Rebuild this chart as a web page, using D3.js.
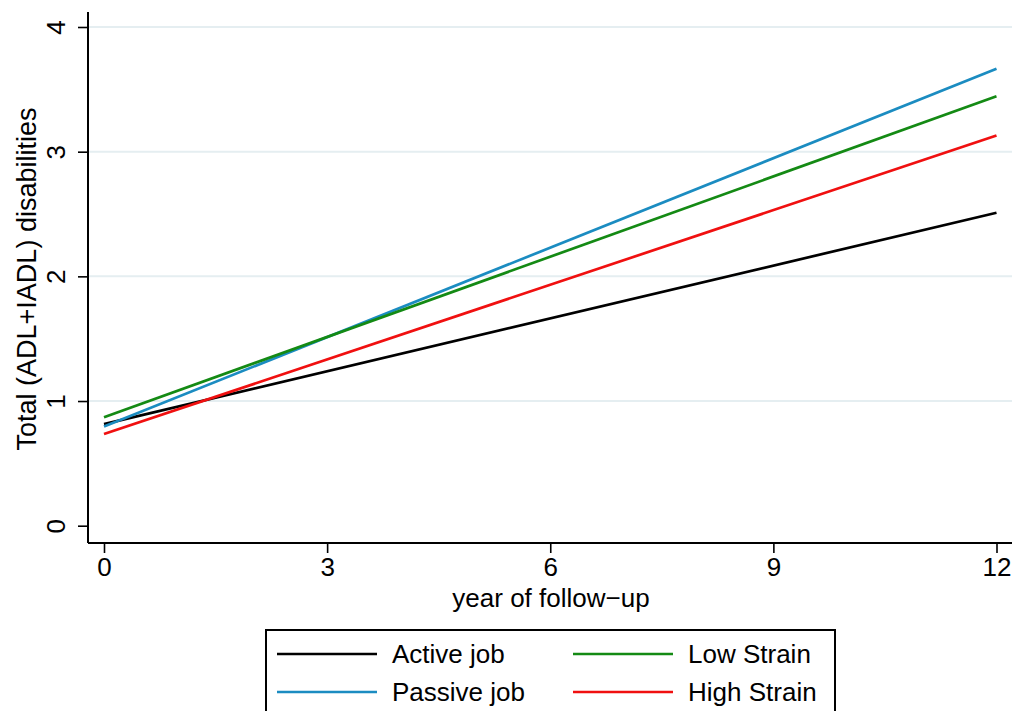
<!DOCTYPE html>
<html>
<head>
<meta charset="utf-8">
<script src="https://cdn.jsdelivr.net/npm/d3@7"></script>
<style>
  body { margin: 0; background: #fff; }
  svg { display: block; font-family: "Liberation Sans", Arial, sans-serif; }
</style>
</head>
<body>
<svg id="chart" width="1024" height="711"></svg>
<script>
// fitted lines, values at start and end of follow-up
const years = [0, 12];
const activeJob = [0.815, 2.51];
const passiveJob = [0.795, 3.665];
const lowStrain = [0.87, 3.445];
const highStrain = [0.735, 3.13];

const xTicks = [0, 3, 6, 9, 12];
const yTicks = [0, 1, 2, 3, 4];
const gridValues = [1, 2, 3, 4];

const series = [
  { name: 'Active job', values: activeJob, color: '#000000' },
  { name: 'Passive job', values: passiveJob, color: '#1b8cc1' },
  { name: 'Low Strain', values: lowStrain, color: '#148a14' },
  { name: 'High Strain', values: highStrain, color: '#f01010' }
];

const svg = d3.select('#chart');
const fontSize = 26;

const x = d3.scaleLinear().domain([0, 12]).range([104, 996.5]);
const y = d3.scaleLinear().domain([0, 4]).range([525.7, 27]);

// gridlines
svg.append('g')
  .selectAll('line')
  .data(gridValues)
  .enter().append('line')
  .attr('x1', 89).attr('x2', 1012)
  .attr('y1', d => y(d)).attr('y2', d => y(d))
  .attr('stroke', '#e5eef1')
  .attr('stroke-width', 2);

// lines
const line = d3.line()
  .x((d, i) => x(years[i]))
  .y(d => y(d));

svg.append('g')
  .selectAll('path')
  .data(series)
  .enter().append('path')
  .attr('d', d => line(d.values))
  .attr('fill', 'none')
  .attr('stroke', d => d.color)
  .attr('stroke-width', 2.7);

// axes
const xAxis = svg.append('g')
  .attr('transform', 'translate(0,543)')
  .call(d3.axisBottom(x).tickValues(xTicks).tickFormat(d3.format('d'))
    .tickSize(10).tickPadding(5).tickSizeOuter(0));
xAxis.select('.domain').attr('d', 'M88,0H1012').attr('stroke-width', 2);
xAxis.selectAll('.tick line').attr('stroke-width', 1.6);
xAxis.selectAll('.tick text')
  .attr('font-size', fontSize)
  .attr('font-family', '"Liberation Sans", Arial, sans-serif')
  .attr('fill', '#000');

const yAxis = svg.append('g')
  .attr('transform', 'translate(88,0)')
  .call(d3.axisLeft(y).tickValues(yTicks).tickFormat(d3.format('d'))
    .tickSize(10).tickSizeOuter(0));
yAxis.select('.domain').attr('d', 'M0,12V543').attr('stroke-width', 2);
yAxis.selectAll('.tick line').attr('stroke-width', 1.6);
yAxis.selectAll('.tick text')
  .attr('font-size', fontSize)
  .attr('font-family', '"Liberation Sans", Arial, sans-serif')
  .attr('fill', '#000')
  .attr('x', null).attr('dy', null)
  .attr('text-anchor', 'middle')
  .attr('dominant-baseline', 'central')
  .attr('transform', 'translate(-32,0) rotate(-90)');

// axis titles
svg.append('text')
  .attr('x', 551).attr('y', 607)
  .attr('text-anchor', 'middle')
  .attr('font-size', fontSize)
  .text('year of follow\u2212up');

svg.append('text')
  .attr('transform', 'translate(36,279) rotate(-90)')
  .attr('text-anchor', 'middle')
  .attr('font-size', 27)
  .text('Total (ADL+IADL) disabilities');

// legend box
svg.append('rect')
  .attr('x', 266).attr('y', 630)
  .attr('width', 569).attr('height', 100)
  .attr('fill', '#fff')
  .attr('stroke', '#000')
  .attr('stroke-width', 2);

// order: Active (col1,row1), Passive (col1,row2), Low (col2,row1), High (col2,row2)
const legend = svg.append('g')
  .selectAll('g')
  .data(series)
  .enter().append('g')
  .attr('transform', (d, i) => {
    const col = i < 2 ? 0 : 1;
    const row = i % 2;
    return `translate(${col === 0 ? 277 : 573},${row === 0 ? 654 : 692})`;
  });

legend.append('line')
  .attr('x1', 0).attr('x2', 100)
  .attr('y1', 0).attr('y2', 0)
  .attr('stroke', d => d.color)
  .attr('stroke-width', 2.7);

legend.append('text')
  .attr('x', 115)
  .attr('y', 0)
  .attr('dy', '0.35em')
  .attr('font-size', fontSize)
  .text(d => d.name);
</script>
</body>
</html>
